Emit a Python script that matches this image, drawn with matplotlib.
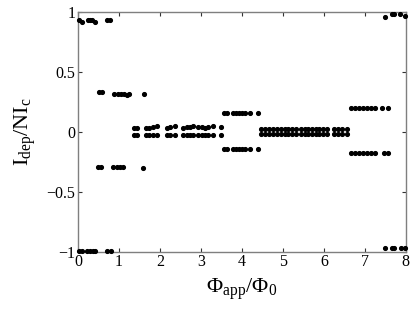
import matplotlib
matplotlib.use("Agg")
import matplotlib.pyplot as plt

plt.rcParams['font.family'] = ['Liberation Serif', 'DejaVu Serif']
plt.rcParams['mathtext.fontset'] = 'custom'
plt.rcParams['mathtext.rm'] = 'Liberation Serif'
plt.rcParams['mathtext.it'] = 'Liberation Serif'

# Branch data (x = flux, y = normalized current)
top_x = [0.03, 0.10, 0.24, 0.29, 0.33, 0.41, 0.70, 0.79]
top_y = [0.93, 0.92, 0.93, 0.93, 0.93, 0.92, 0.93, 0.93]
bot_x = [0.02, 0.09, 0.23, 0.29, 0.36, 0.41, 0.71, 0.80]
bot_y = [-0.99, -0.99, -0.99, -0.99, -0.99, -0.99, -0.99, -0.99]

b1u_x = [0.51, 0.59, 0.88, 0.98, 1.05, 1.11, 1.20, 1.25, 1.61]
b1u_y = [0.33, 0.33, 0.32, 0.32, 0.32, 0.32, 0.31, 0.32, 0.32]
b1l_x = [0.48, 0.56, 0.86, 0.94, 1.02, 1.10, 1.59]
b1l_y = [-0.29, -0.29, -0.29, -0.29, -0.29, -0.29, -0.30]

b2_x = [1.37, 1.45, 1.66, 1.74, 1.82, 1.92, 2.16, 2.24, 2.37, 2.57, 2.65,
        2.73, 2.80, 2.93, 3.02, 3.10, 3.18, 3.29, 3.50]
b2u_y = [0.035, 0.035, 0.03, 0.035, 0.04, 0.05, 0.035, 0.04, 0.05, 0.03, 0.04,
         0.04, 0.05, 0.04, 0.04, 0.035, 0.04, 0.05, 0.04]
b2l_y = [-0.03, -0.03, -0.03, -0.03, -0.03, -0.03, -0.03, -0.03, -0.03, -0.03, -0.03,
         -0.03, -0.03, -0.03, -0.03, -0.03, -0.03, -0.03, -0.03]

b3_x = [3.57, 3.64, 3.79, 3.85, 3.92, 3.99, 4.07, 4.20, 4.38]
b3u_y = [0.155, 0.155, 0.155, 0.16, 0.155, 0.155, 0.155, 0.155, 0.155]
b3l_y = [-0.14, -0.14, -0.14, -0.14, -0.14, -0.14, -0.14, -0.14, -0.14]

b4_x = [4.46, 4.56, 4.66, 4.76, 4.86, 4.96, 5.05, 5.13, 5.22, 5.32, 5.43,
        5.53, 5.62, 5.70, 5.80, 5.89, 5.98, 6.08, 6.24, 6.34, 6.45, 6.57]
b4u_y = [0.025] * 22
b4l_y = [-0.02] * 22

b5u_x = [6.65, 6.75, 6.85, 6.95, 7.05, 7.15, 7.25, 7.42, 7.57]
b5u_y = [0.20, 0.20, 0.20, 0.20, 0.20, 0.20, 0.20, 0.20, 0.20]
b5l_x = [6.65, 6.75, 6.85, 6.95, 7.05, 7.15, 7.25, 7.46, 7.57]
b5l_y = [-0.18, -0.18, -0.18, -0.18, -0.18, -0.18, -0.18, -0.18, -0.18]

tr_x = [7.50, 7.65, 7.71, 7.85, 7.98]
tr_y = [0.96, 0.98, 0.98, 0.98, 0.97]
br_x = [7.50, 7.65, 7.71, 7.89, 7.98]
br_y = [-0.97, -0.97, -0.97, -0.97, -0.97]

xticks = [0, 1, 2, 3, 4, 5, 6, 7, 8]
yticks = [-1, -0.5, 0, 0.5, 1]
yticklabels = ['\u22121', '\u22120.5', '0', '0.5', '1']

fig = plt.figure(figsize=(4.15, 3.10), dpi=100)
ax = fig.add_axes([0.188, 0.188, 0.790, 0.773])

series = [(top_x, top_y), (bot_x, bot_y), (b1u_x, b1u_y), (b1l_x, b1l_y),
          (b2_x, b2u_y), (b2_x, b2l_y), (b3_x, b3u_y), (b3_x, b3l_y),
          (b4_x, b4u_y), (b4_x, b4l_y), (b5u_x, b5u_y), (b5l_x, b5l_y),
          (tr_x, tr_y), (br_x, br_y)]
for xs, ys in series:
    ax.plot(xs, ys, 'o', color='black', ms=2.7, mec='black', clip_on=False, zorder=3)

ax.set_xlim(0, 8)
ax.set_ylim(-1, 1)
ax.set_xticks(xticks)
ax.set_yticks(yticks)
ax.set_yticklabels(yticklabels)
ax.tick_params(direction='in', length=3, width=0.8, top=True, right=True,
               labelsize=11.5, pad=2, color='#333333')
for s in ax.spines.values():
    s.set_color('#7f7f7f')
    s.set_linewidth(1.0)

ax.set_xlabel(r'$\Phi_{\rm app}/\Phi_0$', fontsize=16, labelpad=4)
ax.set_ylabel(r'$\mathrm{I}_{\rm dep}/\mathrm{NI}_{\rm c}$', fontsize=16, labelpad=6)

fig.savefig('out.png', dpi=100)
